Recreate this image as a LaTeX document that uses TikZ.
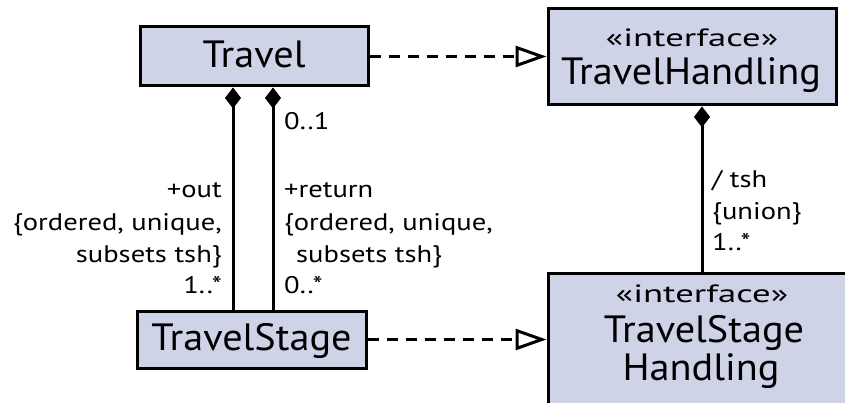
\documentclass[tikz,border=0pt]{standalone}
\usepackage{fontspec}
\setmainfont{PT Sans}
\newfontfamily\titlefont[FakeStretch=1.06]{PT Sans}
\newfontfamily\stereofont[FakeStretch=1.47]{PT Sans}
\newfontfamily\lblfont[FakeStretch=1.19]{PT Sans}
\usetikzlibrary{arrows.meta}
\definecolor{boxfill}{RGB}{207,211,232}
\begin{document}
\begin{tikzpicture}[x=1pt,y=-1pt,
  umlbox/.style={draw=black, line width=3pt, fill=boxfill, inner sep=0pt, rectangle},
  title/.style={font=\titlefont\fontsize{38}{40}\selectfont, inner sep=0pt, anchor=base},
  stereo/.style={font=\stereofont\fontsize{25}{28}\selectfont, inner sep=0pt, anchor=base},
  lbl/.style={font=\lblfont\fontsize{24}{32}\selectfont, inner sep=0pt},
  comp/.style={line width=3pt, {Diamond[length=21pt,width=16pt,line width=1pt,fill=black]}-},
  realize/.style={line width=3pt, dash pattern=on 11pt off 8pt, -{Triangle[open,length=31pt,width=21pt,line width=3pt]}}
]
\useasboundingbox (0,0) rectangle (845,403);
\clip (0,0) rectangle (845,403);
\fill[white] (0,0) rectangle (845,403);

% boxes
\node[umlbox, minimum width=228pt, minimum height=59pt] (travel) at (254,56.5) {};
\node[umlbox, minimum width=288pt, minimum height=96pt] (th) at (692,57) {};
\node[umlbox, minimum width=229pt, minimum height=57pt] (tstage) at (251.5,339.5) {};
\node[umlbox, minimum width=312pt, minimum height=150pt] (tsh) at (704,348) {};

% box texts
\node[title] (travelT) at (254,68) {Travel};
\node[stereo] (thS) at (692,47) {«interface»};
\node[title] (thT) at (691,85) {TravelHandling};
\node[title] (tstageT) at (251.5,350) {TravelStage};
\node[stereo] (tshS) at (702,302) {«interface»};
\node[title] (tshT1) at (704,342) {TravelStage};
\node[title] (tshT2) at (701,380) {Handling};

% connectors
\draw[comp] ([xshift=-21pt]travel.south) -- ([xshift=-21pt]travel.south |- tstage.north);
\draw[comp] ([xshift=19pt]travel.south) -- ([xshift=19pt]travel.south |- tstage.north);
\draw[comp] ([xshift=10pt]th.south) -- ([xshift=10pt]th.south |- tsh.north);
\draw[realize] (travel.east) -- (travel.east -| th.west);
\draw[realize] (tstage.east) -- (tstage.east -| tsh.west);

% labels left (out)
\node[lbl, anchor=base east] (o1) at (222,198) {+out};
\node[lbl, anchor=base east] (o2) at (222,230) {\{ordered, unique,};
\node[lbl, anchor=base east] (o3) at (222,262) {subsets tsh\}};
\node[lbl, anchor=base east] (o4) at (222,293) {1..*};
% labels right (return)
\node[lbl, anchor=base west] (r0) at (284,130) {0..1};
\node[lbl, anchor=base west] (r1) at (284,198) {+return};
\node[lbl, anchor=base west] (r2) at (284,230) {\{ordered, unique,};
\node[lbl, anchor=base west] (r3) at (296,262) {subsets tsh\}};
\node[lbl, anchor=base west] (r4) at (284,293) {0..*};
% labels tsh
\node[lbl, anchor=base west] (t1) at (712,188) {/ tsh};
\node[lbl, anchor=base west] (t2) at (712,220) {\{union\}};
\node[lbl, anchor=base west] (t3) at (712,251) {1..*};
\end{tikzpicture}
\end{document}
